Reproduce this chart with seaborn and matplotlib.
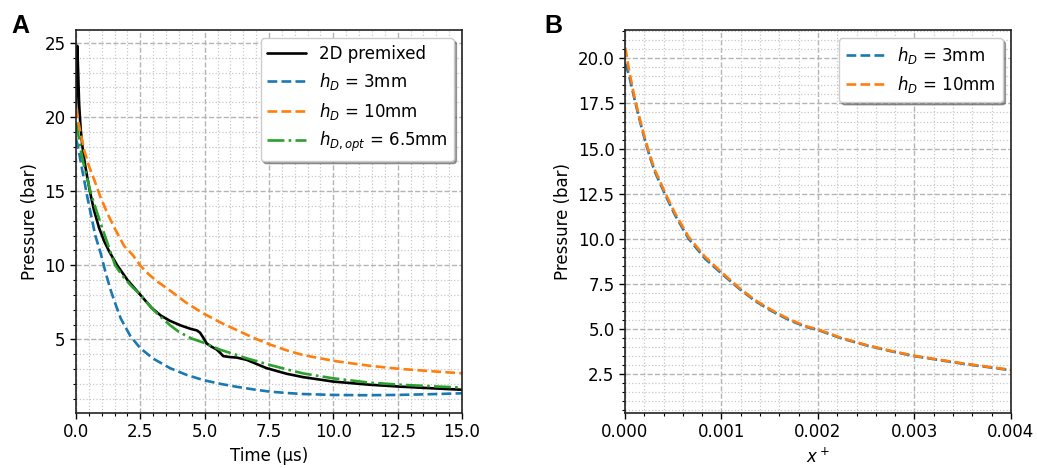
import numpy as np
import pandas as pd
import matplotlib
matplotlib.use("Agg")
import matplotlib.pyplot as plt
from matplotlib.ticker import MultipleLocator, FormatStrFormatter
import seaborn as sns

# panel A: pressure vs time (us)
t_2d = [0, 0.03, 0.05, 0.08, 0.12, 0.18, 0.25, 0.35, 0.44, 0.55, 0.7, 0.9, 1.1, 1.3, 1.6, 2.0, 2.5, 2.95,
        3.3, 3.65, 4.05, 4.43, 4.7, 4.82, 4.95, 5.08, 5.25, 5.46, 5.6, 5.72, 6.0, 6.24, 6.63, 7.0, 7.4,
        8.18, 8.83, 10, 11.4, 12.5, 13.8, 15]
p_2d = [20.5, 24.0, 24.8, 23.2, 20.9, 19.2, 18.0, 16.8, 15.9, 14.9, 13.7, 12.5, 11.6, 10.9, 10.0, 9.0, 8.0, 7.1,
        6.6, 6.25, 5.95, 5.72, 5.6, 5.45, 5.1, 4.72, 4.52, 4.32, 4.1, 3.87, 3.8, 3.77, 3.62, 3.35, 3.06,
        2.68, 2.45, 2.15, 1.94, 1.82, 1.7, 1.6]

t_3mm = [0, 0.05, 0.12, 0.2, 0.31, 0.44, 0.57, 0.75, 0.96, 1.15, 1.35, 1.55, 1.74, 2.12, 2.5, 3.0, 3.65,
         4.3, 4.95, 5.6, 6.24, 6.9, 7.54, 8.2, 8.83, 10, 11.2, 12.5, 13.8, 15]
p_3mm = [18.5, 18.2, 17.6, 16.8, 15.8, 14.6, 13.5, 12.0, 10.8, 9.5, 8.3, 7.3, 6.4, 5.2, 4.4, 3.7, 3.06,
         2.6, 2.25, 2.0, 1.8, 1.62, 1.47, 1.38, 1.31, 1.25, 1.23, 1.25, 1.3, 1.36]

t_10mm = [0, 0.1, 0.31, 0.5, 0.7, 0.95, 1.22, 1.5, 1.87, 2.2, 2.51, 2.85, 3.16, 3.65, 4.3, 4.95, 5.6,
          6.24, 6.9, 7.54, 8.2, 8.83, 10, 11.4, 12.5, 13.8, 15]
p_10mm = [20.6, 19.6, 17.8, 16.7, 15.8, 14.6, 13.5, 12.5, 11.3, 10.7, 9.95, 9.35, 8.9, 8.3, 7.45, 6.75, 6.15,
          5.63, 5.1, 4.65, 4.25, 3.94, 3.55, 3.22, 3.02, 2.85, 2.71]

t_opt = [0, 0.1, 0.18, 0.3, 0.44, 0.6, 0.83, 1.0, 1.22, 1.52, 1.8, 2.12, 2.5, 3.0, 3.3, 3.65, 4.0, 4.5,
         4.95, 5.6, 6.24, 6.63, 7.54, 8.2, 8.83, 10, 11.4, 12.7, 14, 15]
p_opt = [19.6, 18.7, 17.8, 16.8, 15.8, 14.7, 13.5, 12.6, 11.5, 10.0, 9.3, 8.65, 8.0, 7.0, 6.5, 5.96, 5.5, 5.05,
         4.78, 4.3, 3.95, 3.72, 3.27, 2.97, 2.7, 2.37, 2.08, 1.93, 1.82, 1.75]

# panel B: pressure vs x+
xp = [0, 0.00001, 0.00004, 0.0001, 0.00016, 0.00021, 0.00026, 0.00031, 0.00037, 0.00042, 0.00052, 0.00066,
      0.00083, 0.001, 0.00118, 0.00135, 0.00152, 0.0017, 0.00187, 0.002, 0.00225, 0.0025, 0.00275, 0.003,
      0.0035, 0.004, 0.0045]
pb_3mm = [19.7, 19.6, 19.1, 17.7, 16.4, 15.4, 14.5, 13.7, 13.0, 12.4, 11.3, 10.0, 8.9, 8.08, 7.25, 6.55, 6.0,
          5.5, 5.13, 4.95, 4.47, 4.1, 3.78, 3.5, 3.08, 2.72, 2.43]
pb_10mm = [20.6, 20.4, 19.4, 17.8, 16.5, 15.5, 14.6, 13.8, 13.1, 12.5, 11.4, 10.1, 9.0, 8.15, 7.3, 6.6, 6.05,
           5.55, 5.17, 4.98, 4.5, 4.12, 3.8, 3.52, 3.1, 2.74, 2.45]

blue = '#1a78b2'
orange = '#ff7f0e'
green = '#2ca02c'
lw = 1.9

sns.set_style("ticks")
plt.rcParams['font.family'] = ['DejaVu Sans']
plt.rcParams['mathtext.fontset'] = 'dejavusans'
plt.rcParams['text.color'] = 'black'
plt.rcParams['axes.labelcolor'] = 'black'
plt.rcParams['xtick.color'] = 'black'
plt.rcParams['ytick.color'] = 'black'

fig = plt.figure(figsize=(10.37, 4.68), dpi=100)
axA = fig.add_axes([0.0733, 0.1175, 0.3722, 0.8184])
axB = fig.add_axes([0.6027, 0.1175, 0.3722, 0.8184])

sns.lineplot(x=t_2d, y=p_2d, ax=axA, color='black', lw=lw, label='2D premixed')
sns.lineplot(x=t_3mm, y=p_3mm, ax=axA, color=blue, lw=lw, linestyle='--', label=r'$h_D$ = 3mm')
sns.lineplot(x=t_10mm, y=p_10mm, ax=axA, color=orange, lw=lw, linestyle='--', label=r'$h_D$ = 10mm')
sns.lineplot(x=t_opt, y=p_opt, ax=axA, color=green, lw=lw, linestyle='-.', label=r'$h_{D,opt}$ = 6.5mm')

sns.lineplot(x=xp, y=pb_3mm, ax=axB, color=blue, lw=lw, linestyle='--', label=r'$h_D$ = 3mm')
sns.lineplot(x=xp, y=pb_10mm, ax=axB, color=orange, lw=lw, linestyle='--', label=r'$h_D$ = 10mm')

axA.set_xlim(0, 15)
axA.set_ylim(0.03, 25.87)
axA.xaxis.set_major_locator(MultipleLocator(2.5))
axA.xaxis.set_minor_locator(MultipleLocator(0.5))
axA.yaxis.set_major_locator(MultipleLocator(5))
axA.yaxis.set_minor_locator(MultipleLocator(1))
axA.set_xlabel('Time (μs)', fontsize=12)
axA.set_ylabel('Pressure (bar)', fontsize=12)

axB.set_xlim(0, 0.004)
axB.set_ylim(0.35, 21.57)
axB.xaxis.set_major_locator(MultipleLocator(0.001))
axB.xaxis.set_minor_locator(MultipleLocator(0.0002))
axB.yaxis.set_major_locator(MultipleLocator(2.5))
axB.yaxis.set_minor_locator(MultipleLocator(0.5))
axB.xaxis.set_major_formatter(FormatStrFormatter('%.3f'))
axB.yaxis.set_major_formatter(FormatStrFormatter('%.1f'))
axB.set_xlabel(r'$x^+$', fontsize=12)
axB.set_ylabel('Pressure (bar)', fontsize=12)

for ax in (axA, axB):
    ax.grid(which='major', linestyle='--', color='#b4b4b4', lw=1.0)
    ax.grid(which='minor', linestyle=':', color='#c8c8c8', lw=0.9)
    ax.set_axisbelow(True)
    ax.tick_params(which='major', labelsize=12, length=4, width=1)
    ax.tick_params(which='minor', length=2.5, width=0.8)
    for s in ax.spines.values():
        s.set_visible(True)
        s.set_color('#222222')
        s.set_linewidth(1.2)
    ax.legend(loc='upper right', fontsize=12, shadow=True, fancybox=True, framealpha=1,
              handlelength=2.3, borderpad=0.4)

fig.text(0.011, 0.93, 'A', fontsize=18, fontweight='bold', family='Liberation Sans')
fig.text(0.525, 0.93, 'B', fontsize=18, fontweight='bold', family='Liberation Sans')

fig.savefig('out.png', dpi=100)
